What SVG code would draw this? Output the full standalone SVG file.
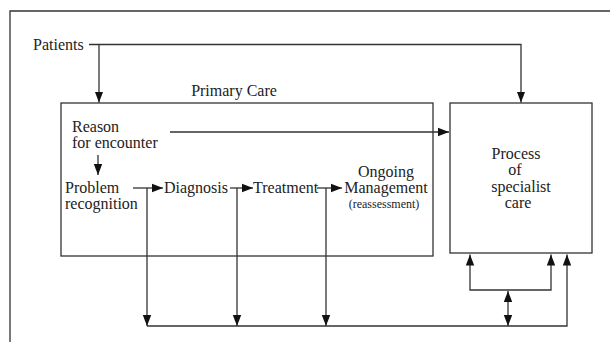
<svg xmlns="http://www.w3.org/2000/svg" width="610" height="342" viewBox="0 0 610 342">
<style>
.t{font-family:"Liberation Serif","Times New Roman",serif;font-size:16px;fill:#222}
.s{font-size:12px}
.box{fill:none;stroke:#333;stroke-width:1.3}
.ln{fill:none;stroke:#333;stroke-width:1.3}
</style>
<defs>
<marker id="ah" markerUnits="userSpaceOnUse" markerWidth="12" markerHeight="10" viewBox="0 0 12 10" refX="11" refY="5" orient="auto-start-reverse">
<path d="M0,0.8 L11,5 L0,9.2 Z" fill="#111"/>
</marker>
</defs>
<rect width="610" height="342" fill="#fff"/>
<g id="frame">
<path class="ln" d="M10,342 V11 H610"/>
</g>
<g id="patients"><text class="t" x="33" y="50">Patients</text></g>
<g id="primary-care">
<rect class="box" x="61" y="103" width="372" height="153"/>
<text class="t" x="234" y="96" text-anchor="middle">Primary Care</text>
</g>
<g id="reason"><text class="t" x="72" y="132">Reason</text><text class="t" x="72" y="148">for encounter</text></g>
<g id="problem"><text class="t" x="65" y="193">Problem</text><text class="t" x="65" y="209">recognition</text></g>
<g id="diagnosis"><text class="t" x="164" y="193">Diagnosis</text></g>
<g id="treatment"><text class="t" x="253" y="193">Treatment</text></g>
<g id="ongoing"><text class="t" x="386" y="177" text-anchor="middle">Ongoing</text><text class="t" x="386" y="193" text-anchor="middle">Management</text><text class="t s" x="384" y="208" text-anchor="middle">(reassessment)</text></g>
<g id="specialist">
<rect class="box" x="450" y="103" width="142" height="150"/>
<text class="t" x="516" y="159" text-anchor="middle">Process</text>
<text class="t" x="515" y="175" text-anchor="middle">of</text>
<text class="t" x="521" y="192" text-anchor="middle">specialist</text>
<text class="t" x="518" y="208" text-anchor="middle">care</text>
</g>
<g id="connectors">
<path class="ln" d="M89,44.5 H521 V102.5" marker-end="url(#ah)"/>
<path class="ln" d="M99,44.5 V102.5" marker-end="url(#ah)"/>
<path class="ln" d="M170,132 H449" marker-end="url(#ah)"/>
<path class="ln" d="M98,155 V175" marker-end="url(#ah)"/>
<path class="ln" d="M133,188 H163" marker-end="url(#ah)"/>
<path class="ln" d="M230,188 H253" marker-end="url(#ah)"/>
<path class="ln" d="M317,188 H342" marker-end="url(#ah)"/>
<path class="ln" d="M147,188 V326" marker-end="url(#ah)"/>
<path class="ln" d="M237,188 V326" marker-end="url(#ah)"/>
<path class="ln" d="M326,188 V326" marker-end="url(#ah)"/>
<path class="ln" d="M147,326 H567 V254.5" marker-end="url(#ah)"/>
<path class="ln" d="M470,254.5 V290 H551 V254.5" marker-start="url(#ah)" marker-end="url(#ah)"/>
<path class="ln" d="M508,291 V326" marker-start="url(#ah)" marker-end="url(#ah)"/>
</g>
</svg>
